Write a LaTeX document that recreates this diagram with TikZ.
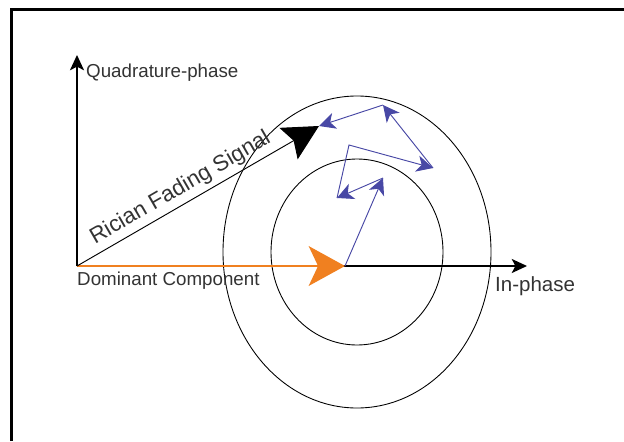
\documentclass[tikz,border=0pt]{standalone}
\usepackage{fontspec}
\setmainfont{Liberation Sans}
\usetikzlibrary{arrows.meta}
\definecolor{dorange}{RGB}{240,128,32}
\definecolor{dblue}{RGB}{72,72,165}
\tikzset{
  axis/.style = {line width=1.2pt, -{Stealth[length=13pt,width=12pt,inset=3pt]}},
  ring/.style = {line width=0.75pt},
  scatter/.style = {dblue, line width=0.8pt, -{Stealth[length=14pt,width=14pt,inset=4pt]}},
  lbl/.style = {font=\fontsize{16}{19}\selectfont, text=black!80, inner sep=0},
}

\begin{document}
\begin{tikzpicture}[x=0.03cm, y=0.03cm]
  \useasboundingbox (-77,-175) rectangle (547,266);
  % frame
  \draw[line width=2.6pt] (-65.5,-175) -- (-65.5,256.5) -- (547,256.5);

  \coordinate (O) at (0,0);
  \coordinate (Q) at (0,211);
  \coordinate (I) at (450,0);
  \coordinate (D) at (268,0);
  \coordinate (R) at (242,140);
  \coordinate (C) at (280,14);
  \coordinate (p1) at (306,88);
  \coordinate (p2) at (260,68);
  \coordinate (p3) at (272,121);
  \coordinate (p4) at (356,98);
  \coordinate (p5) at (306,161);

  \draw[ring] (C) ellipse [x radius=134, y radius=156];
  \draw[ring] (C) ellipse [x radius=86, y radius=93];

  \draw[axis] (O) -- (Q);
  \draw[axis] (O) -- (I);
  \draw[dorange, line width=1.2pt, -{Stealth[length=31pt,width=34pt,inset=8pt]}] (O) -- (D);
  \draw[line width=0.8pt, -{Stealth[length=30pt,width=31pt,inset=5pt]}] (O) -- (R)
    node[lbl, font=\fontsize{19}{22}\selectfont, pos=0.46, sloped, above=4pt] (rlabel) {Rician Fading Signal};

  \draw[scatter] (D) -- (p1);
  \draw[scatter] (p1) -- (p2);
  \draw[scatter] (p2) -- (p3) -- (p4);
  \draw[scatter] (p4) -- (p5);
  \draw[scatter] (p5) -- (R);

  \node[lbl, anchor=west] (qlabel) at (9,193) {Quadrature-phase};
  \node[lbl, anchor=west] (dlabel) at (0,-15) {Dominant Component};
  \node[lbl, font=\fontsize{17.5}{21}\selectfont, anchor=west] (ilabel) at (418,-20) {In-phase};
\end{tikzpicture}
\end{document}
